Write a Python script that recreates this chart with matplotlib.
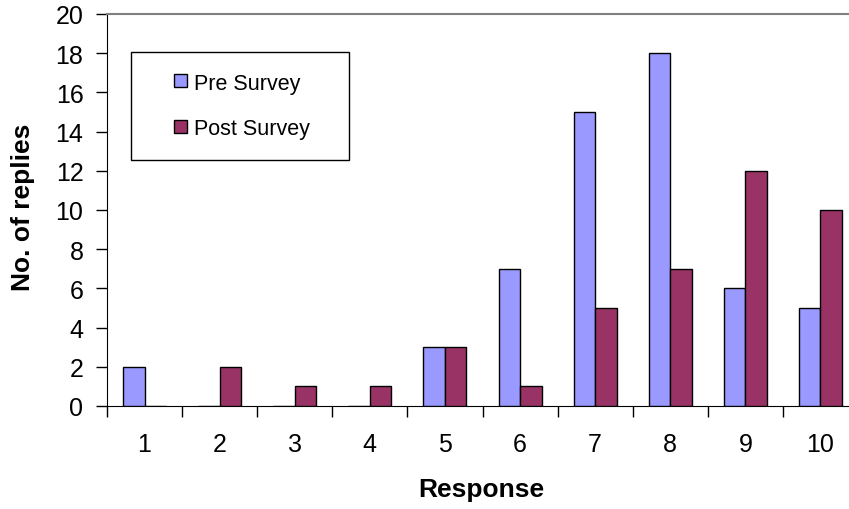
import matplotlib.pyplot as plt
from matplotlib.patches import Rectangle
from matplotlib.ticker import FixedLocator, NullFormatter

plt.rcParams['font.family'] = ['Liberation Sans', 'DejaVu Sans']

# survey replies per response score
responses = ['1', '2', '3', '4', '5', '6', '7', '8', '9', '10']
pre_survey = [2, 0, 0, 0, 3, 7, 15, 18, 6, 5]
post_survey = [0, 2, 1, 1, 3, 1, 5, 7, 12, 10]

W, H = 849, 510
fig = plt.figure(figsize=(W / 100, H / 100), dpi=100)
# plot area runs a little past the right edge of the figure
ax = fig.add_axes([107 / W, 1 - 407 / H, 751 / W, 392 / H])

x = list(range(len(responses)))
width = 1 / 3.5  # two bars plus a 150% gap per category

ax.bar([i - width / 2 for i in x], pre_survey, width, color='#9999FF',
       edgecolor='black', linewidth=1.0, label='Pre Survey', zorder=3)
ax.bar([i + width / 2 for i in x], post_survey, width, color='#993366',
       edgecolor='black', linewidth=1.0, label='Post Survey', zorder=3)

ax.set_xlim(-0.5, len(responses) - 0.5)
ax.set_ylim(0, 20)
ax.set_yticks(range(0, 21, 2))

# category boundaries get tick marks, centres get the labels
ax.xaxis.set_major_locator(FixedLocator([i - 0.5 for i in range(len(responses) + 1)]))
ax.xaxis.set_major_formatter(NullFormatter())
ax.xaxis.set_minor_locator(FixedLocator(x))
ax.set_xticklabels(responses, minor=True)
ax.tick_params(axis='x', which='major', length=8, width=1, direction='out')
ax.tick_params(axis='x', which='minor', length=0, pad=19, labelsize=18)
ax.tick_params(axis='y', length=8, width=1, direction='out', pad=9, labelsize=18)

ax.spines['right'].set_visible(False)
ax.spines['top'].set_color('#808080')
ax.spines['top'].set_linewidth(1.5)
ax.spines['left'].set_color('black')
ax.spines['bottom'].set_color('black')

fig.text(23 / W, 1 - 207 / H, 'No. of replies', rotation=90, ha='center', va='center',
         fontsize=19, fontweight='bold')
fig.text(481 / W, 1 - 490 / H, 'Response', ha='center', va='center',
         fontsize=19, fontweight='bold')

# legend box
fig.patches.append(Rectangle((131 / W, 1 - 161 / H), 218 / W, 108 / H,
                             transform=fig.transFigure, facecolor='white',
                             edgecolor='black', linewidth=1.0, zorder=5))
leg = fig.legend(loc='center left', bbox_to_anchor=(174 / W, 1 - 107 / H),
                 frameon=False, fontsize=15.5, borderpad=0, borderaxespad=0,
                 handlelength=0.6, handleheight=0.55, handletextpad=0.33,
                 labelspacing=1.16)
leg.set_zorder(6)

fig.savefig('out.png', dpi=100)
